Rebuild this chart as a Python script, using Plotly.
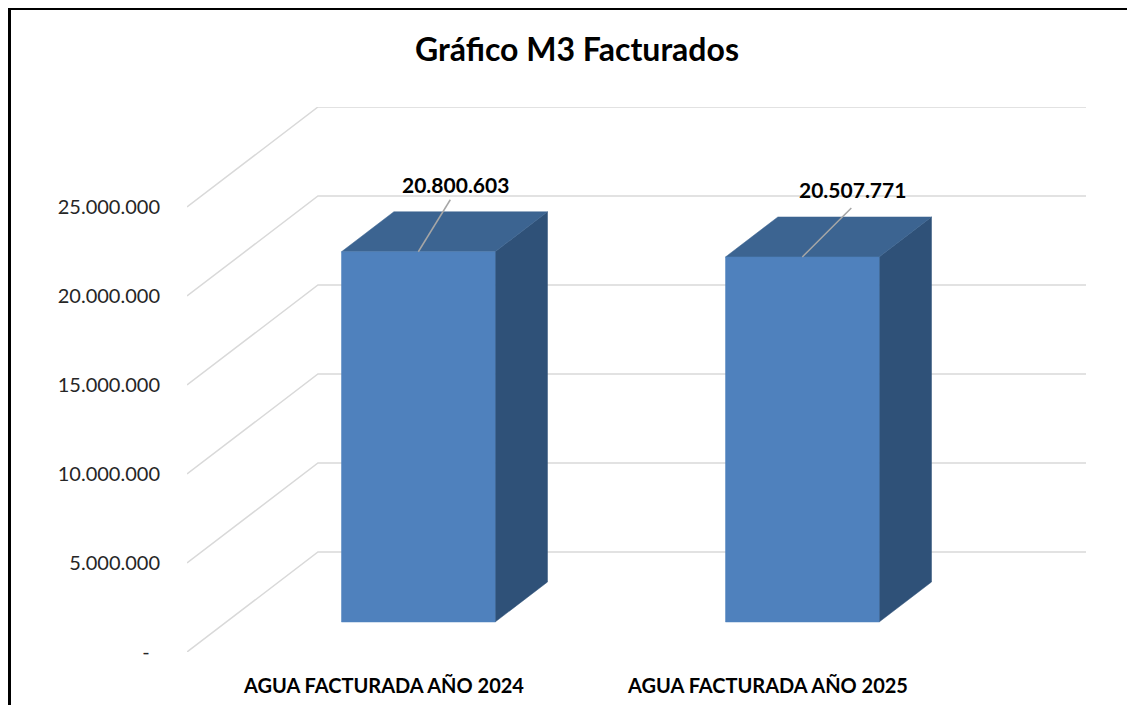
import plotly.graph_objects as go

# ---- data ----
categories = ["AGUA FACTURADA AÑO 2024", "AGUA FACTURADA AÑO 2025"]
values = [20800603, 20507771]
value_labels = ["20.800.603", "20.507.771"]
tick_values = [0, 5000000, 10000000, 15000000, 20000000, 25000000]
tick_labels = ["-\u00a0\u00a0", "5.000.000", "10.000.000", "15.000.000", "20.000.000", "25.000.000"]
title_text = "Gráfico M3 Facturados"

# ---- geometry / style ----
OFF = 8                                    # page body margin
W, H = 1135 - OFF, 713 - 2 * OFF
L, R, T, B = 187 - OFF, 1086 - OFF, 107 - OFF, 652 - OFF   # plot area in figure pixels
DX = 0.341                                 # full floor depth, x units
YMAX_FRONT = 25000000
px_per_val = (652 - 207) / YMAX_FRONT      # front-plane scale
DY = 100 / px_per_val                      # full floor depth, y units
XMIN, XMAX = -0.5, 1.5 + DX
YMAX = (B - T) / px_per_val
px_per_x = (R - L) / (XMAX - XMIN)
HALF_W = 0.2
D0, D1 = 0.3, 0.7
FRONT = "#4F81BD"
TOP = "#3C6491"
SIDE = "#2F5178"
GRID = "#D9D9D9"
FONT = "Lato"
leader_px = [(32, -52), (49, -49)]
label_px = [(37, -67), (50, -67)]
cat_label_shift_px = 5

def px2x(dpx):
    return dpx / px_per_x

def px2y(dpy):
    return -dpy / px_per_val

fig = go.Figure()

# gridlines: side wall diagonals + back wall horizontals
for v in tick_values:
    fig.add_trace(go.Scatter(
        x=[XMIN, XMIN + DX, 1.5 + DX], y=[v, v + DY, v + DY],
        mode="lines", line=dict(color=GRID, width=1.5),
        hoverinfo="skip", showlegend=False))

# 3D bars
for i, v in enumerate(values):
    xl = i - HALF_W + D0 * DX
    xr = i + HALF_W + D0 * DX
    ddx = (D1 - D0) * DX
    y0 = D0 * DY
    y1 = D1 * DY
    # side face
    fig.add_trace(go.Scatter(
        x=[xr, xr + ddx, xr + ddx, xr, xr],
        y=[y0, y1, v + y1, v + y0, y0],
        fill="toself", fillcolor=SIDE, mode="lines",
        line=dict(color=SIDE, width=0.5), hoverinfo="skip", showlegend=False))
    # top face
    fig.add_trace(go.Scatter(
        x=[xl, xr, xr + ddx, xl + ddx, xl],
        y=[v + y0, v + y0, v + y1, v + y1, v + y0],
        fill="toself", fillcolor=TOP, mode="lines",
        line=dict(color=TOP, width=0.5), hoverinfo="skip", showlegend=False))
    # front face
    fig.add_trace(go.Scatter(
        x=[xl, xr, xr, xl, xl],
        y=[y0, y0, v + y0, v + y0, y0],
        fill="toself", fillcolor=FRONT, mode="lines",
        line=dict(color=FRONT, width=0.5), hoverinfo="skip", showlegend=False))
    # leader line
    cx = i + D0 * DX
    lx, ly = leader_px[i]
    fig.add_trace(go.Scatter(
        x=[cx, cx + px2x(lx)], y=[v + y0, v + y0 + px2y(ly)],
        mode="lines", line=dict(color="#A6A6A6", width=1.5),
        hoverinfo="skip", showlegend=False))
    # value label
    tx, ty = label_px[i]
    fig.add_annotation(
        x=cx + px2x(tx), y=v + y0 + px2y(ty), text=value_labels[i],
        showarrow=False, font=dict(family=FONT, size=21, color="#000000", weight="bold"),
        xanchor="center", yanchor="middle")

# frame (reference pixel coords -> paper)
def pxX(p):
    return (p - OFF - L) / (R - L)

def pxY(p):
    return (B - (p - OFF)) / (B - T)

fig.add_shape(type="rect", xref="paper", yref="paper",
              x0=pxX(7), x1=pxX(1140), y0=pxY(6), y1=pxY(10),
              fillcolor="#000000", line=dict(width=0))
fig.add_shape(type="rect", xref="paper", yref="paper",
              x0=pxX(7), x1=pxX(11), y0=pxY(6), y1=pxY(712),
              fillcolor="#000000", line=dict(width=0))

fig.update_layout(
    width=W, height=H,
    margin=dict(l=L, r=W - R, t=T, b=H - B, autoexpand=False),
    paper_bgcolor="#FFFFFF", plot_bgcolor="#FFFFFF",
    title=dict(text=title_text, x=(577 - OFF) / W, xref="container", xanchor="center",
               y=1 - (50 - OFF) / H, yref="container", yanchor="middle",
               font=dict(family=FONT, size=32, color="#000000", weight="bold")),
    xaxis=dict(range=[XMIN, XMAX], showgrid=False, zeroline=False, showline=False,
               tickmode="array",
               tickvals=[i + px2x(cat_label_shift_px) for i in range(len(categories))],
               ticktext=categories,
               ticks="", ticklabelstandoff=20,
               tickfont=dict(family=FONT, size=20, color="#000000", weight="bold")),
    yaxis=dict(range=[0, YMAX], showgrid=False, zeroline=False, showline=False,
               tickmode="array", tickvals=tick_values, ticktext=tick_labels,
               ticks="", ticklabelstandoff=26,
               tickfont=dict(family=FONT, size=20, color="#262626")),
    showlegend=False,
)

fig.write_html("out.html")
